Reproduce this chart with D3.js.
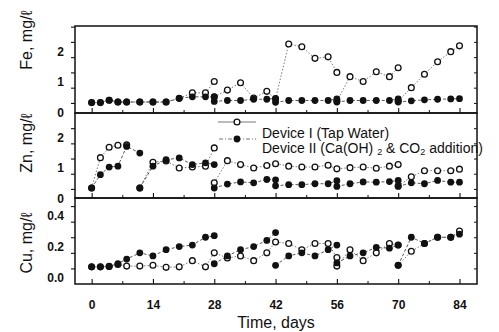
<!DOCTYPE html>
<html>
<head>
<meta charset="utf-8">
<script src="https://cdn.jsdelivr.net/npm/d3@7"></script>
<style>
  body { margin: 0; background: #fff; }
  text { font-family: Arial, "Liberation Sans", sans-serif; fill: #111; }
</style>
</head>
<body>
<svg id="chart" width="499" height="332"></svg>
<script>
// ---- data (days, mg/l); null splits a series where the device was reset ----
const dayTicks = [0, 14, 28, 42, 56, 70, 84];

const feOpenDays = [0,2,4,6,8,11,14,17,20,23,26,28,null,28,31,34,37,40,42,45,48,51,54,56,null,56,59,62,65,68,70,null,70,73,76,79,82,84];
const feOpenVals = [0.01,0.01,0.09,0.03,0.03,0.03,0.03,0.03,0.15,0.33,0.33,0.70,null,0.20,0.42,0.66,0.16,0.38,0.13,1.93,1.84,1.46,1.51,1.00,null,0.06,0.86,0.70,1.02,0.86,1.15,null,0.06,0.50,0.94,1.35,1.68,1.87];
const feFillDays = [0,2,4,6,8,11,14,17,20,23,26,28,null,28,31,34,37,40,42,null,42,45,48,51,54,56,null,56,59,62,65,68,70,null,70,73,76,79,82,84];
const feFillVals = [0.01,0.01,0.09,0.03,0.03,0.03,0.03,0.03,0.15,0.20,0.20,0.20,null,0.05,0.08,0.08,0.12,0.12,0.15,null,0.02,0.08,0.08,0.08,0.08,0.13,null,0.03,0.08,0.08,0.08,0.08,0.13,null,0.03,0.07,0.10,0.12,0.13,0.14];

const znOpenDays = [0,2,4,6,8,null,11,14,17,20,23,26,28,null,28,31,34,37,40,42,45,48,51,54,56,59,62,65,68,70,null,70,73,76,79,82,84];
const znOpenVals = [0.03,1.03,1.37,1.44,1.45,null,0.03,0.88,0.92,0.69,0.72,0.75,1.35,null,0.20,0.93,0.80,0.69,0.77,0.83,0.75,0.72,0.72,0.78,0.66,0.70,0.72,0.68,0.75,0.80,null,0.10,0.40,0.60,0.60,0.60,0.65];
const znFillDays = [0,2,4,6,8,11,null,11,14,17,20,23,26,28,null,28,31,34,37,40,42,null,42,45,48,51,54,56,null,56,59,62,65,68,70,null,70,73,76,79,82,84];
const znFillVals = [0.03,0.47,0.72,0.75,1.40,1.18,null,0.03,0.75,0.96,1.02,0.80,0.86,0.80,null,0.03,0.16,0.23,0.20,0.31,0.30,null,0.10,0.14,0.14,0.17,0.17,0.27,null,0.08,0.17,0.23,0.22,0.24,0.28,null,0.08,0.20,0.17,0.28,0.22,0.22];

const cuOpenDays = [0,2,4,6,8,11,14,17,20,23,26,28,31,34,37,40,42,45,48,51,54,56,null,56,59,62,65,68,70,null,70,73,76,79,82,84];
const cuOpenVals = [0.01,0.01,0.013,0.025,0.015,0.015,0.02,0.007,0.01,0.05,0.01,0.10,0.067,0.08,0.05,0.10,0.17,0.16,0.12,0.16,0.16,0.07,null,0.015,0.12,0.05,0.10,0.16,0.15,null,0.02,0.11,0.16,0.20,0.20,0.24];
const cuFillDays = [0,2,4,6,8,11,14,17,20,23,26,28,null,28,31,34,37,40,42,null,42,45,48,51,54,56,null,56,59,62,65,68,70,null,70,73,76,79,82,84];
const cuFillVals = [0.01,0.01,0.013,0.03,0.06,0.10,0.08,0.12,0.14,0.15,0.20,0.21,null,0.03,0.08,0.12,0.14,0.18,0.23,null,0.02,0.08,0.10,0.08,0.12,0.15,null,0.035,0.08,0.10,0.135,0.13,0.15,null,0.02,0.20,0.16,0.20,0.20,0.22];

const zip = (days, vals) => days.map((d, i) => ({ day: d, v: vals[i] }));

// ---- layout ----
const left = 75, right = 477;
const panels = [
  { name: "Fe", top: 26,  bottom: 113, domain: [-0.33, 2.52], ticks: [0,0.5,1,1.5,2,2.5], major: [0,1,2], fmt: d3.format("d"),
    open: zip(feOpenDays, feOpenVals), fill: zip(feFillDays, feFillVals), labelY: 40 },
  { name: "Zn", top: 113, bottom: 198, domain: [-0.3, 2.5], ticks: [0,0.5,1,1.5,2], major: [0,1,2], fmt: d3.format("d"),
    open: zip(znOpenDays, znOpenVals), fill: zip(znFillDays, znFillVals), labelY: 143 },
  { name: "Cu", top: 198, bottom: 284, domain: [-0.1, 0.452], ticks: [0,0.1,0.2,0.3,0.4], major: [0,0.2,0.4], fmt: d3.format(".1f"),
    open: zip(cuOpenDays, cuOpenVals), fill: zip(cuFillDays, cuFillVals), labelY: 243 }
];

const svg = d3.select("#chart");

var x = d3.scaleLinear().domain([-3.8, 88]).range([left, right]);
const minorDays = d3.range(7, 84, 14);

panels.forEach(p => {
  const y = d3.scaleLinear().domain(p.domain).range([p.bottom, p.top]);

  // left axis, labels sit a little below their ticks as in the print
  const ax = svg.append("g")
    .attr("transform", `translate(${left},0)`)
    .call(d3.axisLeft(y).tickValues(p.ticks).tickSize(4).tickPadding(7)
      .tickFormat(d => p.major.some(m => Math.abs(m - d) < 1e-9) ? p.fmt(d) : ""));
  ax.select(".domain").remove();
  ax.selectAll("line").attr("stroke", "#111").attr("stroke-width", 1.1);
  ax.selectAll("text")
    .attr("transform", "translate(0,9.5)")
    .style("font-size", "12px").style("font-weight", "bold")
    .style("font-family", "Arial, 'Liberation Sans', sans-serif");

  // right side inward ticks
  const axr = svg.append("g")
    .attr("transform", `translate(${right},0)`)
    .call(d3.axisRight(y).tickValues(p.ticks).tickSize(-3).tickFormat(""));
  axr.select(".domain").remove();
  axr.selectAll("line").attr("stroke", "#111");

  // bottom inward ticks
  const axb = svg.append("g")
    .attr("transform", `translate(0,${p.bottom})`)
    .call(d3.axisBottom(x).tickValues(dayTicks).tickSize(-5).tickPadding(16.5)
      .tickFormat(p.name === "Cu" ? d3.format("d") : ""));
  axb.select(".domain").remove();
  axb.selectAll("line").attr("stroke", "#111").attr("stroke-width", 1.1);
  axb.selectAll("text")
    .style("font-size", "12px").style("font-weight", "bold")
    .style("font-family", "Arial, 'Liberation Sans', sans-serif");
  svg.append("g")
    .attr("transform", `translate(0,${p.bottom})`)
    .call(d3.axisBottom(x).tickValues(minorDays).tickSize(-3).tickFormat(""))
    .call(g => g.select(".domain").remove())
    .selectAll("line").attr("stroke", "#111");

  // panel frame
  svg.append("rect")
    .attr("x", left).attr("y", p.top)
    .attr("width", right - left).attr("height", p.bottom - p.top)
    .attr("fill", "none").attr("stroke", "#111").attr("stroke-width", 1.5);

  // y title
  svg.append("text")
    .attr("transform", `translate(32,${p.labelY}) rotate(-90)`)
    .attr("text-anchor", "middle")
    .style("font-size", "16px")
    .text(`${p.name}, mg/ℓ`);

  const line = d3.line()
    .defined(d => d.v != null)
    .x(d => x(d.day))
    .y(d => y(d.v));

  svg.append("path").datum(p.open)
    .attr("d", line).attr("fill", "none")
    .attr("stroke", "#555").attr("stroke-width", 0.8).attr("stroke-dasharray", "1.5,1.8");
  svg.append("path").datum(p.fill)
    .attr("d", line).attr("fill", "none")
    .attr("stroke", "#444").attr("stroke-width", 0.9).attr("stroke-dasharray", "3,2");

  svg.append("g").selectAll("circle")
    .data(p.open.filter(d => d.v != null))
    .join("circle")
    .attr("cx", d => x(d.day)).attr("cy", d => y(d.v)).attr("r", 2.9)
    .attr("fill", "#fff").attr("stroke", "#111").attr("stroke-width", 1.3);
  svg.append("g").selectAll("circle")
    .data(p.fill.filter(d => d.v != null))
    .join("circle")
    .attr("cx", d => x(d.day)).attr("cy", d => y(d.v)).attr("r", 3.4)
    .attr("fill", "#111");
});

// legend inside the Zn panel
const lg = svg.append("g");
lg.append("line").attr("x1", 218).attr("x2", 256).attr("y1", 122).attr("y2", 122)
  .attr("stroke", "#666").attr("stroke-width", 0.9);
lg.append("circle").attr("cx", 237).attr("cy", 122).attr("r", 2.9)
  .attr("fill", "#fff").attr("stroke", "#111").attr("stroke-width", 1.3);
lg.append("line").attr("x1", 219).attr("x2", 256).attr("y1", 139).attr("y2", 139)
  .attr("stroke", "#666").attr("stroke-width", 0.9).attr("stroke-dasharray", "4,2,1,2");
lg.append("circle").attr("cx", 237).attr("cy", 139).attr("r", 3.4).attr("fill", "#111");

lg.append("text").attr("x", 262).attr("y", 138).style("font-size", "14px")
  .text("Device I (Tap Water)");
const t2 = lg.append("text").attr("x", 262).attr("y", 153).style("font-size", "14px");
t2.append("tspan").text("Device II (Ca(OH) ");
t2.append("tspan").attr("dy", 2).style("font-size", "9px").text("2");
t2.append("tspan").attr("dy", -2).text(" & CO");
t2.append("tspan").attr("dy", 2).style("font-size", "9px").text("2");
t2.append("tspan").attr("dy", -2).text(" addition)");

// x title
svg.append("text")
  .attr("x", 276).attr("y", 328)
  .attr("text-anchor", "middle")
  .style("font-size", "16px")
  .text("Time, days");
</script>
</body>
</html>
